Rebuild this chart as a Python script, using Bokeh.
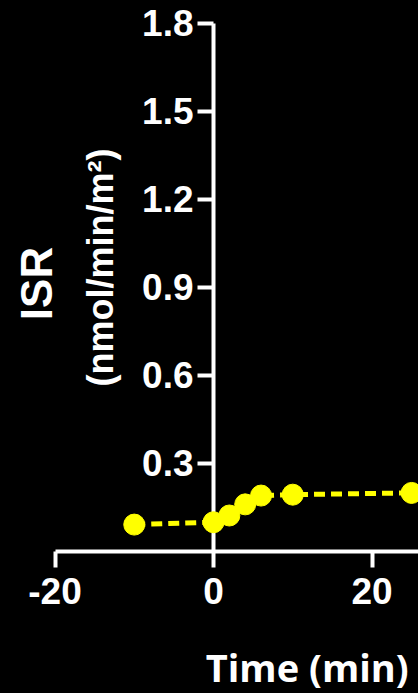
import math
from bokeh.plotting import figure
from bokeh.models import FixedTicker, Label, Range1d
from bokeh.embed import file_html
from bokeh.resources import INLINE

# ---- data ----
time_min = [-10, 0, 2, 4, 6, 10, 25]
isr = [0.090, 0.098, 0.121, 0.159, 0.189, 0.192, 0.198]
y_ticks = [0.3, 0.6, 0.9, 1.2, 1.5, 1.8]
y_tick_labels = ["0.3", "0.6", "0.9", "1.2", "1.5", "1.8"]
x_ticks = [-20, 0, 20, 40]
x_tick_labels = ["-20", "0", "20", "40"]

# ---- layout ----
W, H = 418, 693
X0_PX, X_SCALE = 213.0, 7.925   # px of x=0 ; px per minute
Y0_PX, Y_SCALE = 550.5, 293.3   # px (from top) of y=0 ; px per unit


def px2x(px):
    return (px - X0_PX) / X_SCALE


def py2y(py):
    return (Y0_PX - py) / Y_SCALE


p = figure(width=W, height=H,
           x_range=Range1d(-X0_PX / X_SCALE, (W - X0_PX) / X_SCALE),
           y_range=Range1d(-(H - Y0_PX) / Y_SCALE, Y0_PX / Y_SCALE),
           output_backend="svg", toolbar_location=None, min_border=0)
p.background_fill_color = "black"
p.border_fill_color = "black"
p.outline_line_color = None
p.xgrid.visible = False
p.ygrid.visible = False

for ax in (p.xaxis[0], p.yaxis[0]):
    ax.fixed_location = 0
    ax.axis_line_color = "white"
    ax.axis_line_width = 4
    ax.major_tick_line_color = "white"
    ax.major_tick_line_width = 4
    ax.major_tick_out = 16
    ax.major_tick_in = 0
    ax.minor_tick_line_color = None
    ax.major_label_text_color = "white"
    ax.major_label_text_font = "Liberation Sans"
    ax.major_label_text_font_style = "bold"
    ax.major_label_text_font_size = "37px"

p.yaxis.bounds = (0, 1.8)
p.yaxis.ticker = FixedTicker(ticks=y_ticks)
p.yaxis.major_label_overrides = dict(zip(y_ticks, y_tick_labels))
p.yaxis.major_label_standoff = 4

p.xaxis.bounds = (-20, 40)
p.xaxis.ticker = FixedTicker(ticks=x_ticks)
p.xaxis.major_label_overrides = dict(zip(x_ticks, x_tick_labels))
p.xaxis.major_label_standoff = 11

ln = p.line(time_min, isr, line_color="#FFFF00", line_width=5, line_dash="11 6")
sc = p.scatter(time_min, isr, size=21, fill_color="#FFFF00", line_color="#FFFF00")
ln.level = "annotation"
sc.level = "annotation"

p.add_layout(Label(x=px2x(36), y=py2y(283), text="ISR", angle=math.pi / 2,
                   text_align="center", text_baseline="middle",
                   text_color="white", text_font="Liberation Sans",
                   text_font_style="bold", text_font_size="44px"))
p.add_layout(Label(x=px2x(100), y=py2y(267), text="(nmol/min/m\u00b2)", angle=math.pi / 2,
                   text_align="center", text_baseline="middle",
                   text_color="white", text_font="Liberation Sans",
                   text_font_style="bold", text_font_size="36px"))
p.add_layout(Label(x=px2x(306.7), y=py2y(666), text="Time (min)",
                   text_align="center", text_baseline="alphabetic",
                   text_color="white", text_font="Open Sans",
                   text_font_style="bold", text_font_size="38px"))

html = file_html(p, INLINE, title="ISR")
html = html.replace("</head>", "<style>html,body{background:#000000;}</style></head>", 1)
open("out.html", "w").write(html)
